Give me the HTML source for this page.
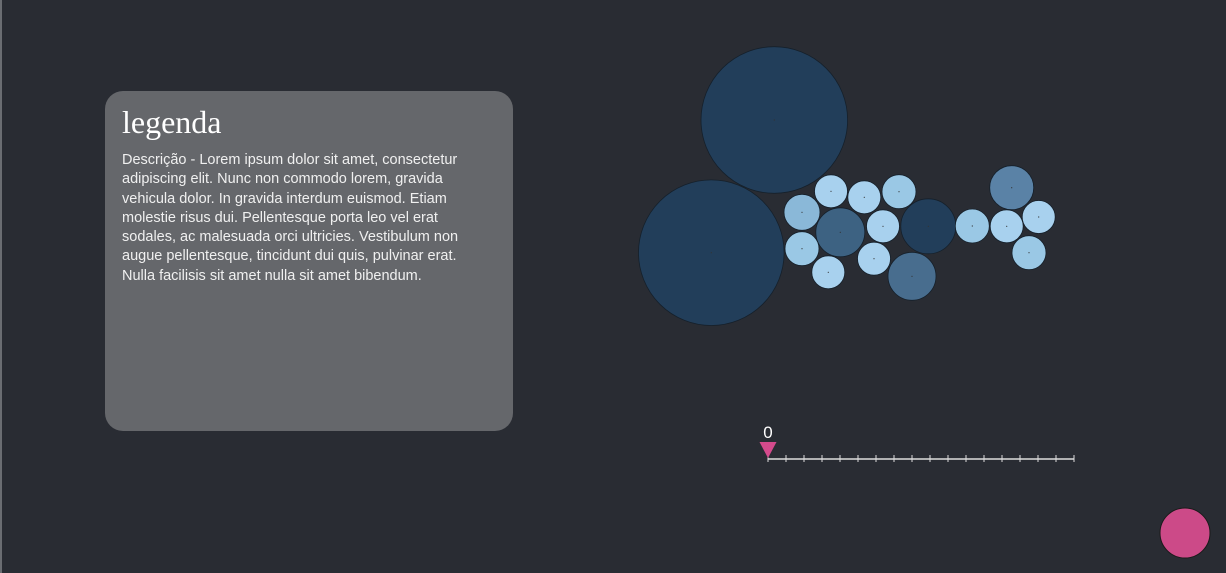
<!DOCTYPE html>
<html><head><meta charset="utf-8">
<style>
html,body{margin:0;padding:0;}
body{width:1226px;height:573px;background:#292c33;position:relative;overflow:hidden;font-family:"Liberation Sans",sans-serif;}
#edge{position:absolute;left:0;top:0;width:2px;height:573px;background:#6a6d72;}
#panel{position:absolute;left:105px;top:91px;width:408px;height:340px;background:#65676b;border-radius:18px;}
#title{position:absolute;left:17px;top:13px;font-family:"Liberation Serif",serif;font-size:32px;color:#fff;}
#desc{position:absolute;left:17px;top:60px;font-size:14.5px;line-height:19.3px;color:#f0f0f0;white-space:nowrap;}
svg{position:absolute;left:0;top:0;}
</style></head><body>
<div id="edge"></div>
<div id="panel">
<div id="title">legenda</div>
<div id="desc">Descrição - Lorem ipsum dolor sit amet, consectetur<br>adipiscing elit. Nunc non commodo lorem, gravida<br>vehicula dolor. In gravida interdum euismod. Etiam<br>molestie risus dui. Pellentesque porta leo vel erat<br>sodales, ac malesuada orci ultricies. Vestibulum non<br>augue pellentesque, tincidunt dui quis, pulvinar erat.<br>Nulla facilisis sit amet nulla sit amet bibendum.</div>
</div>
<svg id="chart" width="1226" height="573"></svg>
<script>
const bubbleX = [774.3,711.3,831,864.3,899,802,840.3,883,928.3,802,828.3,874,912,972.3,1006.7,1011.7,1038.7,1029];
const bubbleY = [120,252.7,191.3,197.3,191.7,212.3,232.3,226.3,226.3,248.7,272.3,258.7,276.3,226,226.3,187.7,217,252.7];
const bubbleR = [73.3,72.8,16.5,16.5,17,18,24.5,16.5,27.5,17,16.5,16.5,24,17,16.5,22,16.5,17];
const bubbleColor = ['#223e5a','#223e5a','#a8d1ee','#a8d1ee','#9ac8e5','#8ab8d8','#3d6282','#a8d1ee','#223e5a','#9ac8e5','#a8d1ee','#a8d1ee','#486d8e','#9ac8e5','#a8d1ee','#5a82a6','#a8d1ee','#9ac8e5'];
const sliderTicks = [0,1,2,3,4,5,6,7,8,9,10,11,12,13,14,15,16,17];
const sliderValue = 0;
const NS='http://www.w3.org/2000/svg';
const svg=document.getElementById('chart');
function mk(t,a){const e=document.createElementNS(NS,t);for(const k in a)e.setAttribute(k,a[k]);svg.appendChild(e);return e;}
bubbleX.forEach((x,i)=>{
  const c=mk('circle',{cx:x,cy:bubbleY[i],r:bubbleR[i],fill:bubbleColor[i],stroke:'#15202b','stroke-width':0.8});
  
  
  const d=mk('circle',{cx:x,cy:bubbleY[i],r:0.6,fill:'#333'});
  
  
});
const x0=768,x1=1074,sy=459;
const sx=v=>x0+(x1-x0)*(v-sliderTicks[0])/(sliderTicks[sliderTicks.length-1]-sliderTicks[0]);
const ln=mk('line',{x1:x0,y1:sy,x2:x1,y2:sy,stroke:'#ddd','stroke-width':1.5});


sliderTicks.forEach(v=>{
  const t=mk('line',{x1:sx(v),y1:sy-4,x2:sx(v),y2:sy+3,stroke:'#ddd','stroke-width':1});
  
  
});
const hx=sx(sliderValue);
const h=mk('polygon',{points:`${hx-8.5},442 ${hx+8.5},442 ${hx},458`,fill:'#d44a8c'});


const lb=mk('text',{x:hx,y:438,'text-anchor':'middle',fill:'#fff','font-size':17,'font-family':'Liberation Sans, sans-serif'});
lb.textContent=sliderValue;


const pb=mk('circle',{cx:1185,cy:533,r:25,fill:'#cc4a88',stroke:'#1a1a1a','stroke-width':1});


</script>
</body></html>
